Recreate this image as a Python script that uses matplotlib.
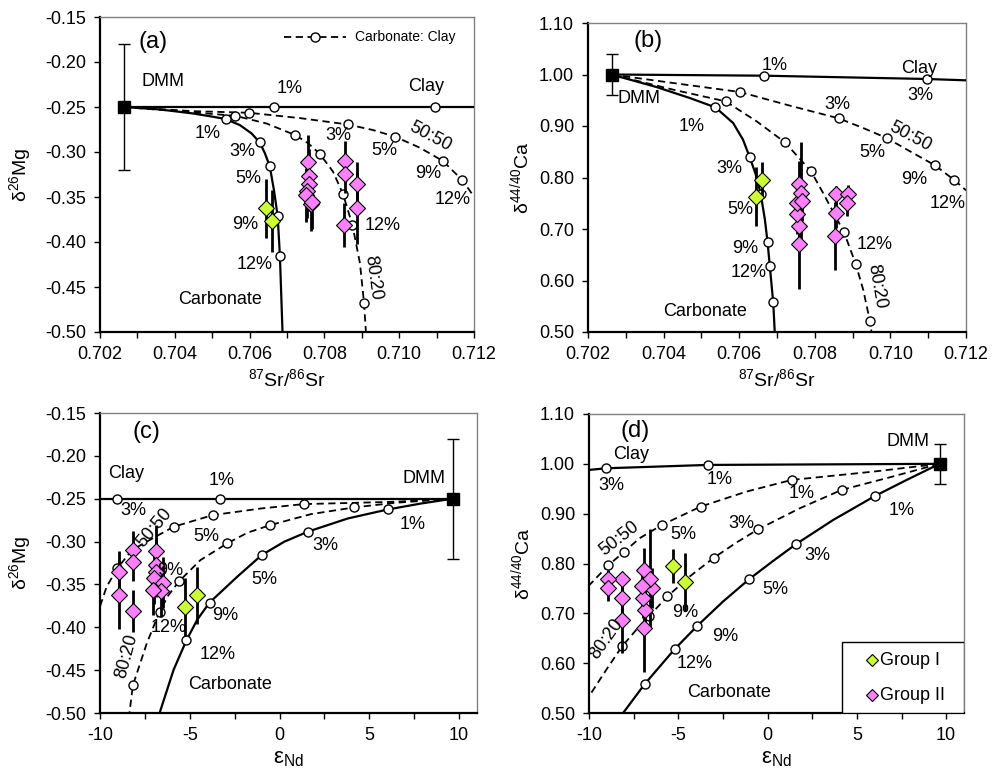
import matplotlib
matplotlib.use("Agg")
import matplotlib.pyplot as plt
from matplotlib.lines import Line2D
from matplotlib.patches import Rectangle
from matplotlib.ticker import MultipleLocator, FormatStrFormatter

plt.rcParams['font.family'] = ['Liberation Sans', 'DejaVu Sans']
plt.rcParams['mathtext.fontset'] = 'custom'
plt.rcParams['mathtext.rm'] = 'Liberation Sans'
plt.rcParams['mathtext.it'] = 'Liberation Sans'
plt.rcParams['axes.unicode_minus'] = False

# ---------------- end member ----------------
dmm_sr = 0.70263
dmm_nd = 9.65
dmm_mg = -0.25
dmm_mg_err = 0.07
dmm_ca = 1.00
dmm_ca_err = 0.04

# ---------------- samples ----------------
g1_sr = [0.70644, 0.70659]
g1_nd = [-4.62, -5.29]
g1_mg = [-0.3626, -0.3767]
g1_mg_err = [0.033, 0.034]
g1_ca = [0.763, 0.795]
g1_ca_err = [0.058, 0.035]

g2_sr = [0.70757, 0.70758, 0.70759, 0.70754, 0.70752, 0.70763, 0.70766,
         0.70855, 0.70855, 0.70853, 0.70887, 0.70886]
g2_nd = [-6.90, -6.87, -6.90, -7.00, -6.48, -6.58, -7.06,
         -8.15, -8.17, -8.17, -8.92, -8.92]
g2_mg = [-0.311, -0.327, -0.335, -0.343, -0.348, -0.358, -0.356,
         -0.310, -0.324, -0.381, -0.335, -0.362]
g2_mg_err = [0.03, 0.03, 0.03, 0.03, 0.03, 0.03, 0.03,
             0.022, 0.022, 0.024, 0.024, 0.04]
g2_ca = [0.787, 0.706, 0.670, 0.730, 0.750, 0.769, 0.755,
         0.768, 0.731, 0.687, 0.768, 0.750]
g2_ca_err = [0.045, 0.04, 0.087, 0.04, 0.04, 0.10, 0.04,
             0.015, 0.03, 0.066, 0.018, 0.025]

# ---------------- mixing curves, panel (a): Sr vs Mg ----------------
carb_a_x = [0.70263, 0.70360, 0.70449, 0.70503, 0.70536, 0.70574, 0.70605, 0.70627,
            0.70641, 0.70654, 0.70665, 0.70675, 0.70681, 0.70688]
carb_a_y = [-0.2500, -0.2527, -0.2572, -0.2609, -0.2634, -0.2701, -0.2793, -0.2893,
            -0.3015, -0.3159, -0.3422, -0.3710, -0.4150, -0.5000]
carb_a_mx = [0.70536, 0.70627, 0.70654, 0.70675, 0.70681]
carb_a_my = [-0.2634, -0.2893, -0.3159, -0.3710, -0.4150]

m80_a_x = [0.70263, 0.70405, 0.70494, 0.70562, 0.70645, 0.70722, 0.70757, 0.70788,
           0.70823, 0.70850, 0.70875, 0.70895, 0.70906, 0.70911]
m80_a_y = [-0.2500, -0.2546, -0.2575, -0.2598, -0.2683, -0.2812, -0.2904, -0.3023,
           -0.3218, -0.3470, -0.3813, -0.4235, -0.4678, -0.5000]
m80_a_mx = [0.70562, 0.70722, 0.70788, 0.70850, 0.70875, 0.70906]
m80_a_my = [-0.2598, -0.2812, -0.3023, -0.3470, -0.3813, -0.4678]

m50_a_x = [0.70263, 0.70449, 0.70598, 0.70734, 0.70862, 0.70930, 0.70989, 0.71055,
           0.71117, 0.71169, 0.71200]
m50_a_y = [-0.2500, -0.2546, -0.2564, -0.2623, -0.2694, -0.2756, -0.2830, -0.2952,
           -0.3100, -0.3314, -0.3496]
m50_a_mx = [0.70598, 0.70862, 0.70989, 0.71117, 0.71169]
m50_a_my = [-0.2564, -0.2694, -0.2830, -0.3100, -0.3314]

clay_a_x = [0.70263, 0.70664, 0.71095, 0.71200]
clay_a_y = [-0.2500, -0.2500, -0.2500, -0.2500]
clay_a_mx = [0.70664, 0.71095]
clay_a_my = [-0.2500, -0.2500]

# ---------------- panel (b): Sr vs Ca ----------------
carb_b_x = [0.70262, 0.70381, 0.70469, 0.70537, 0.70584, 0.70610, 0.70628, 0.70644,
            0.70657, 0.70668, 0.70675, 0.70681, 0.70690, 0.70694]
carb_b_y = [1.0000, 0.9757, 0.9544, 0.9362, 0.9058, 0.8735, 0.8392, 0.8055,
            0.7680, 0.7181, 0.6748, 0.6275, 0.5576, 0.5000]
carb_b_mx = [0.70537, 0.70628, 0.70657, 0.70675, 0.70681, 0.70690]
carb_b_my = [0.9362, 0.8392, 0.7680, 0.6748, 0.6275, 0.5576]

m80_b_x = [0.70262, 0.70425, 0.70564, 0.70646, 0.70721, 0.70790, 0.70822, 0.70850,
           0.70877, 0.70908, 0.70928, 0.70946, 0.70950]
m80_b_y = [1.0000, 0.9706, 0.9479, 0.9091, 0.8683, 0.8120, 0.7699, 0.7311,
           0.6942, 0.6327, 0.5822, 0.5207, 0.5000]
m80_b_mx = [0.70564, 0.70721, 0.70790, 0.70877, 0.70908, 0.70946]
m80_b_my = [0.9479, 0.8683, 0.8120, 0.6942, 0.6327, 0.5207]

m50_b_x = [0.70262, 0.70425, 0.70602, 0.70734, 0.70863, 0.70928, 0.70990, 0.71052,
           0.71118, 0.71169, 0.71200]
m50_b_y = [1.0000, 0.9835, 0.9660, 0.9395, 0.9149, 0.8961, 0.8767, 0.8508,
           0.8236, 0.7951, 0.7751]
m50_b_mx = [0.70602, 0.70863, 0.70990, 0.71118, 0.71169]
m50_b_my = [0.9660, 0.9149, 0.8767, 0.8236, 0.7951]

clay_b_x = [0.70262, 0.70665, 0.71096, 0.71200]
clay_b_y = [1.0000, 0.9977, 0.9913, 0.9887]
clay_b_mx = [0.70665, 0.71096]
clay_b_my = [0.9977, 0.9913]

# ---------------- panel (c): Nd vs Mg ----------------
carb_c_x = [9.65, 7.91, 6.04, 3.81, 1.57, 0.26, -0.99, -2.35, -3.90, -4.59, -5.19, -5.90, -6.68]
carb_c_y = [-0.2500, -0.2555, -0.2625, -0.2730, -0.2885, -0.3002, -0.3157, -0.3409,
            -0.3712, -0.3914, -0.4154, -0.4496, -0.5000]
carb_c_mx = [6.04, 1.57, -0.99, -3.90, -5.19]
carb_c_my = [-0.2625, -0.2885, -0.3157, -0.3712, -0.4154]

m80_c_x = [9.65, 6.42, 4.14, 1.75, -0.52, -1.79, -2.91, -4.40, -5.58, -6.18, -6.68,
           -7.39, -8.17, -8.36]
m80_c_y = [-0.2500, -0.2548, -0.2602, -0.2680, -0.2808, -0.2897, -0.3021, -0.3215,
           -0.3460, -0.3623, -0.3817, -0.4185, -0.4678, -0.5000]
m80_c_mx = [4.14, -0.52, -2.91, -5.58, -6.68, -8.17]
m80_c_my = [-0.2602, -0.2808, -0.3021, -0.3460, -0.3817, -0.4678]

m50_c_x = [9.65, 6.42, 1.34, -1.04, -3.71, -5.90, -7.57, -8.23, -9.03, -9.63, -10.0]
m50_c_y = [-0.2500, -0.2536, -0.2563, -0.2614, -0.2691, -0.2827, -0.3021, -0.3100,
           -0.3312, -0.3526, -0.3758]
m50_c_mx = [1.34, -3.71, -5.90, -8.23, -9.03]
m50_c_my = [-0.2563, -0.2691, -0.2827, -0.3100, -0.3312]

clay_c_x = [-10.0, -9.03, -3.34, 9.65]
clay_c_y = [-0.2500, -0.2500, -0.2500, -0.2500]
clay_c_mx = [-9.03, -3.34]
clay_c_my = [-0.2500, -0.2500]

# ---------------- panel (d): Nd vs Ca ----------------
carb_d_x = [9.63, 7.79, 6.02, 3.68, 1.59, 0.32, -1.03, -2.49, -3.93, -5.20, -6.88, -8.09]
carb_d_y = [1.0000, 0.9677, 0.9356, 0.8875, 0.8388, 0.8054, 0.7686, 0.7238,
            0.6751, 0.6283, 0.5581, 0.5000]
carb_d_mx = [6.02, 1.59, -1.03, -3.93, -5.20, -6.88]
carb_d_my = [0.9356, 0.8388, 0.7686, 0.6751, 0.6283, 0.5581]

m80_d_x = [9.63, 6.86, 4.15, 1.81, -0.52, -1.74, -2.99, -4.36, -5.61, -6.65, -7.35,
           -8.15, -9.03, -10.0]
m80_d_y = [1.0000, 0.9731, 0.9477, 0.9109, 0.8688, 0.8421, 0.8120, 0.7740, 0.7339,
           0.6938, 0.6671, 0.6336, 0.5869, 0.5334]
m80_d_mx = [4.15, -0.52, -2.99, -5.61, -6.65, -8.15]
m80_d_my = [0.9477, 0.8688, 0.8120, 0.7339, 0.6938, 0.6336]

m50_d_x = [9.63, 5.93, 1.35, -1.18, -3.74, -5.91, -7.16, -8.06, -8.93, -10.0]
m50_d_y = [1.0000, 0.9844, 0.9677, 0.9443, 0.9143, 0.8775, 0.8508, 0.8227, 0.7960, 0.7559]
m50_d_mx = [1.35, -3.74, -5.91, -8.06, -8.93]
m50_d_my = [0.9677, 0.9143, 0.8775, 0.8227, 0.7960]

clay_d_x = [-10.0, -9.03, -3.36, 9.63]
clay_d_y = [0.9878, 0.9911, 0.9978, 1.0000]
clay_d_mx = [-9.03, -3.36]
clay_d_my = [0.9911, 0.9978]

# ---------------- styling ----------------
G1_COLOR = '#ccff33'
G2_COLOR = '#ff80ff'
FS = 13
DASH = (0, (4, 2.5))

W, H = 992, 776
fig = plt.figure(figsize=(W / 100, H / 100), dpi=100)


def axes_px(left, top, right, bottom):
    return fig.add_axes([left / W, 1 - bottom / H, (right - left) / W, (bottom - top) / H])


def style_axes(ax):
    for s in ('left', 'bottom'):
        ax.spines[s].set_linewidth(1.6)
        ax.spines[s].set_color('black')
    for s in ('top', 'right'):
        ax.spines[s].set_linewidth(1.0)
        ax.spines[s].set_color('#808080')
    ax.tick_params(axis='both', which='both', direction='out', labelsize=FS,
                   top=False, right=False)
    ax.tick_params(axis='both', which='major', length=4, width=1.0)
    ax.tick_params(axis='x', which='minor', length=4, width=1.0)
    ax.tick_params(axis='x', pad=6)
    ax.tick_params(axis='y', pad=6)


def curve(ax, x, y, mx, my, ls):
    ax.plot(x, y, color='black', lw=1.6 if ls == '-' else 1.3, ls=ls, zorder=3)
    ax.plot(mx, my, ls='none', marker='o', ms=6.5, mfc='white', mec='black', mew=1.0, zorder=4)


def samples(ax, xg1, yg1, eg1, xg2, yg2, eg2):
    ax.errorbar(xg1, yg1, yerr=eg1, fmt='none', ecolor='black', elinewidth=2.0, capsize=0, zorder=5)
    ax.errorbar(xg2, yg2, yerr=eg2, fmt='none', ecolor='black', elinewidth=2.0, capsize=0, zorder=5)
    ax.plot(xg2, yg2, ls='none', marker='D', ms=8, mfc=G2_COLOR, mec='black', mew=0.8, zorder=6)
    ax.plot(xg1, yg1, ls='none', marker='D', ms=8, mfc=G1_COLOR, mec='black', mew=0.8, zorder=6)


def dmm(ax, x, y, e):
    ax.errorbar([x], [y], yerr=[e], fmt='none', ecolor='black', elinewidth=1.0, capsize=4,
                capthick=1.0, zorder=7)
    ax.plot([x], [y], ls='none', marker='s', ms=9, color='black', zorder=8)


def label(ax, x, y, s, rot=0, size=FS):
    ax.text(x, y, s, ha='center', va='center', fontsize=size, rotation=rot,
            rotation_mode='anchor', zorder=9)


# ===================== (a) =====================
ax = axes_px(100, 17, 474, 332)
style_axes(ax)
curve(ax, clay_a_x, clay_a_y, clay_a_mx, clay_a_my, '-')
curve(ax, carb_a_x, carb_a_y, carb_a_mx, carb_a_my, '-')
curve(ax, m80_a_x, m80_a_y, m80_a_mx, m80_a_my, DASH)
curve(ax, m50_a_x, m50_a_y, m50_a_mx, m50_a_my, DASH)
samples(ax, g1_sr, g1_mg, g1_mg_err, g2_sr, g2_mg, g2_mg_err)
dmm(ax, dmm_sr, dmm_mg, dmm_mg_err)
ax.set_xlim(0.702, 0.712)
ax.set_ylim(-0.50, -0.15)
ax.xaxis.set_major_locator(MultipleLocator(0.002))
ax.xaxis.set_minor_locator(MultipleLocator(0.001))
ax.xaxis.set_major_formatter(FormatStrFormatter('%.3f'))
ax.yaxis.set_major_locator(MultipleLocator(0.05))
ax.yaxis.set_major_formatter(FormatStrFormatter('%.2f'))
ax.set_xlabel('$^{87}$Sr/$^{86}$Sr', fontsize=14)
ax.set_ylabel('δ$^{26}$Mg', fontsize=14)
ax.xaxis.set_label_coords(0.5, -0.115)
ax.yaxis.set_label_coords(-0.178, 0.5)
label(ax, 0.70341, -0.1777, '(a)', size=17)
label(ax, 0.70369, -0.2221, 'DMM')
label(ax, 0.70708, -0.2295, '1%')
label(ax, 0.71073, -0.2269, 'Clay')
label(ax, 0.70489, -0.2793, '1%')
label(ax, 0.70581, -0.2997, '3%')
label(ax, 0.70596, -0.3292, '5%')
label(ax, 0.70587, -0.3802, '9%')
label(ax, 0.70614, -0.4246, '12%')
label(ax, 0.70521, -0.4634, 'Carbonate')
label(ax, 0.70837, -0.2812, '3%')
label(ax, 0.70961, -0.2978, '5%')
label(ax, 0.71082, -0.2830, '50:50', rot=-28)
label(ax, 0.71077, -0.3237, '9%')
label(ax, 0.71144, -0.3533, '12%')
label(ax, 0.70957, -0.3821, '12%')
label(ax, 0.70930, -0.4401, '80:20', rot=-82)
# legend (Carbonate: Clay)
ax.add_line(Line2D([0.4915, 0.659], [0.9366, 0.9366], transform=ax.transAxes,
                   color='black', lw=1.3, ls=DASH))
ax.plot([0.575], [0.9366], transform=ax.transAxes, marker='o', ms=6.5, mfc='white',
        mec='black', mew=1.0, ls='none')
ax.text(0.681, 0.9366, 'Carbonate: Clay', transform=ax.transAxes, fontsize=10,
        ha='left', va='center')

# ===================== (b) =====================
ax = axes_px(588, 23, 966, 332)
style_axes(ax)
curve(ax, clay_b_x, clay_b_y, clay_b_mx, clay_b_my, '-')
curve(ax, carb_b_x, carb_b_y, carb_b_mx, carb_b_my, '-')
curve(ax, m80_b_x, m80_b_y, m80_b_mx, m80_b_my, DASH)
curve(ax, m50_b_x, m50_b_y, m50_b_mx, m50_b_my, DASH)
samples(ax, g1_sr, g1_ca, g1_ca_err, g2_sr, g2_ca, g2_ca_err)
dmm(ax, dmm_sr, dmm_ca, dmm_ca_err)
ax.set_xlim(0.702, 0.712)
ax.set_ylim(0.50, 1.10)
ax.xaxis.set_major_locator(MultipleLocator(0.002))
ax.xaxis.set_minor_locator(MultipleLocator(0.001))
ax.xaxis.set_major_formatter(FormatStrFormatter('%.3f'))
ax.yaxis.set_major_locator(MultipleLocator(0.10))
ax.yaxis.set_major_formatter(FormatStrFormatter('%.2f'))
ax.set_xlabel('$^{87}$Sr/$^{86}$Sr', fontsize=14)
ax.set_ylabel('δ$^{44/40}$Ca', fontsize=14)
ax.xaxis.set_label_coords(0.5, -0.117)
ax.yaxis.set_label_coords(-0.148, 0.5)
label(ax, 0.70359, 1.0644, '(b)', size=17)
label(ax, 0.70334, 0.9531, 'DMM')
label(ax, 0.70694, 1.0178, '1%')
label(ax, 0.71076, 1.0126, 'Clay')
label(ax, 0.71080, 0.9595, '3%')
label(ax, 0.70475, 0.8994, '1%')
label(ax, 0.70575, 0.8184, '3%')
label(ax, 0.70602, 0.7388, '5%')
label(ax, 0.70617, 0.6612, '9%')
label(ax, 0.70626, 0.6146, '12%')
label(ax, 0.70511, 0.5401, 'Carbonate')
label(ax, 0.70860, 0.9427, '3%')
label(ax, 0.71052, 0.8799, '50:50', rot=-28)
label(ax, 0.70953, 0.8476, '5%')
label(ax, 0.71062, 0.7958, '9%')
label(ax, 0.71151, 0.7492, '12%')
label(ax, 0.70959, 0.6696, '12%')
label(ax, 0.70963, 0.5887, '80:20', rot=-80)

# ===================== (c) =====================
ax = axes_px(100, 413, 477, 713)
style_axes(ax)
curve(ax, clay_c_x, clay_c_y, clay_c_mx, clay_c_my, '-')
curve(ax, carb_c_x, carb_c_y, carb_c_mx, carb_c_my, '-')
curve(ax, m80_c_x, m80_c_y, m80_c_mx, m80_c_my, DASH)
curve(ax, m50_c_x, m50_c_y, m50_c_mx, m50_c_my, DASH)
samples(ax, g1_nd, g1_mg, g1_mg_err, g2_nd, g2_mg, g2_mg_err)
dmm(ax, dmm_nd, dmm_mg, dmm_mg_err)
ax.set_xlim(-10, 11)
ax.set_ylim(-0.50, -0.15)
ax.xaxis.set_major_locator(MultipleLocator(5))
ax.xaxis.set_minor_locator(MultipleLocator(2.5))
ax.xaxis.set_major_formatter(FormatStrFormatter('%d'))
ax.yaxis.set_major_locator(MultipleLocator(0.05))
ax.yaxis.set_major_formatter(FormatStrFormatter('%.2f'))
ax.set_xlabel('ε$_{\\mathrm{Nd}}$', fontsize=16)
ax.set_ylabel('δ$^{26}$Mg', fontsize=14)
ax.xaxis.set_label_coords(0.5, -0.118)
ax.yaxis.set_label_coords(-0.178, 0.5)
label(ax, -7.43, -0.1721, '(c)', size=17)
label(ax, -8.54, -0.2206, 'Clay')
label(ax, -8.13, -0.2633, '3%')
label(ax, -3.23, -0.2292, '1%')
label(ax, 8.06, -0.2264, 'DMM')
label(ax, 7.44, -0.2800, '1%')
label(ax, 2.54, -0.3048, '3%')
label(ax, -0.86, -0.3438, '5%')
label(ax, -3.00, -0.3863, '9%')
label(ax, -3.47, -0.4313, '12%')
label(ax, -2.76, -0.4670, 'Carbonate')
label(ax, -4.07, -0.2944, '5%')
label(ax, -6.08, -0.3332, '9%')
label(ax, -6.18, -0.3999, '12%')
label(ax, -6.98, -0.2839, '50:50', rot=50)
label(ax, -8.51, -0.4340, '80:20', rot=75)

# ===================== (d) =====================
ax = axes_px(589, 414, 964, 713)
style_axes(ax)
curve(ax, clay_d_x, clay_d_y, clay_d_mx, clay_d_my, '-')
curve(ax, carb_d_x, carb_d_y, carb_d_mx, carb_d_my, '-')
curve(ax, m80_d_x, m80_d_y, m80_d_mx, m80_d_my, DASH)
curve(ax, m50_d_x, m50_d_y, m50_d_mx, m50_d_my, DASH)
samples(ax, g1_nd, g1_ca, g1_ca_err, g2_nd, g2_ca, g2_ca_err)
dmm(ax, dmm_nd, dmm_ca, dmm_ca_err)
ax.set_xlim(-10, 11)
ax.set_ylim(0.50, 1.10)
ax.xaxis.set_major_locator(MultipleLocator(5))
ax.xaxis.set_minor_locator(MultipleLocator(2.5))
ax.xaxis.set_major_formatter(FormatStrFormatter('%d'))
ax.yaxis.set_major_locator(MultipleLocator(0.10))
ax.yaxis.set_major_formatter(FormatStrFormatter('%.2f'))
ax.set_xlabel('ε$_{\\mathrm{Nd}}$', fontsize=16)
ax.set_ylabel('δ$^{44/40}$Ca', fontsize=14)
ax.xaxis.set_label_coords(0.5, -0.118)
ax.yaxis.set_label_coords(-0.148, 0.5)
label(ax, -7.40, 1.0666, '(d)', size=17)
label(ax, 7.89, 1.0445, 'DMM')
label(ax, -7.63, 1.0178, 'Clay')
label(ax, -8.75, 0.9557, '3%')
label(ax, -2.67, 0.9690, '1%')
label(ax, 1.91, 0.9396, '1%')
label(ax, 7.51, 0.9062, '1%')
label(ax, -1.46, 0.8809, '3%')
label(ax, 2.79, 0.8154, '3%')
label(ax, -4.73, 0.8575, '5%')
label(ax, 0.41, 0.7486, '5%')
label(ax, -4.64, 0.7018, '9%')
label(ax, -2.36, 0.6537, '9%')
label(ax, -4.07, 0.5989, '12%')
label(ax, -2.15, 0.5414, 'Carbonate')
label(ax, -8.32, 0.8508, '50:50', rot=38)
label(ax, -9.03, 0.6483, '80:20', rot=55)
# legend box (Group I / Group II)
ax.add_patch(Rectangle((0.6756, 0.0), 0.3244, 0.236, transform=ax.transAxes,
                       facecolor='white', edgecolor='black', lw=1.0, zorder=10))
ax.plot([0.755], [0.176], transform=ax.transAxes, marker='D', ms=6.5, mfc=G1_COLOR,
        mec='black', mew=0.8, ls='none', zorder=11)
ax.plot([0.755], [0.059], transform=ax.transAxes, marker='D', ms=6.5, mfc=G2_COLOR,
        mec='black', mew=0.8, ls='none', zorder=11)
ax.text(0.775, 0.176, 'Group I', transform=ax.transAxes, fontsize=13, ha='left',
        va='center', zorder=11)
ax.text(0.775, 0.059, 'Group II', transform=ax.transAxes, fontsize=13, ha='left',
        va='center', zorder=11)

fig.savefig('out.png', dpi=100)
